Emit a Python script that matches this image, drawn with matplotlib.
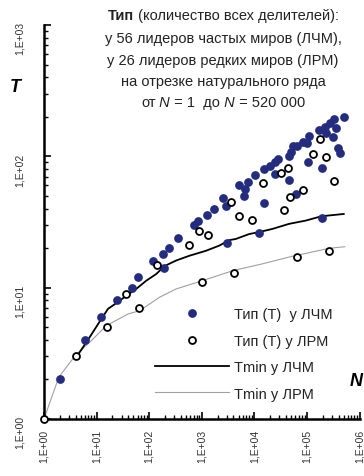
import numpy as np
import matplotlib
matplotlib.use('Agg')
import matplotlib.pyplot as plt
from matplotlib.ticker import FixedLocator, LogLocator, FuncFormatter, NullFormatter
from matplotlib.offsetbox import TextArea, HPacker, AnnotationBbox

plt.rcParams['font.family'] = ['Liberation Sans', 'DejaVu Sans']

# Тип (число делителей) у лидеров частых миров (ЛЧМ)
lchm_n = [2, 6, 12, 24, 48, 60, 120, 180, 192, 240, 360, 720, 840, 1260, 1680,
          2520, 2880, 3072, 5040, 6480, 6720, 7560, 10080, 12288, 15120, 15360,
          20160, 25000, 25200, 27720, 45360, 46080, 50400, 55440, 61440, 65520,
          83160, 100800, 103680, 110880, 166320, 190000, 196608, 221760, 226800,
          277200, 320000, 332640, 354000, 387000, 422000, 498960]
lchm_t = [2, 4, 6, 8, 10, 12, 16, 18, 14, 20, 24, 30, 32, 36, 40,
          48, 42, 22, 60, 50, 56, 64, 72, 26, 80, 44,
          84, 73, 90, 96, 100, 66, 108, 120, 52, 120,
          128, 126, 90, 144, 160, 82, 34, 168, 150,
          180, 140, 192, 164, 116, 106, 200]

# Тип у лидеров редких миров (ЛРМ)
lrm_n = [1, 4, 16, 36, 64, 144, 576, 900, 1024, 1296, 3600, 4096, 5184, 9216,
         14400, 32400, 36864, 44100, 46656, 65536, 82944, 129600, 176400,
         230400, 262144, 331776]
lrm_t = [1, 3, 5, 9, 7, 15, 21, 27, 11, 25, 45, 13, 35, 33,
         63, 75, 39, 81, 49, 17, 55, 105, 135,
         99, 19, 65]

# Tmin у ЛЧМ
tmin_lchm_n = [4, 7.4, 12.4, 16.5, 24, 37, 57, 88, 136, 196, 326, 582, 1205,
               2155, 3334, 4460, 7970, 11800, 22000, 45600, 94500, 190000, 502000]
tmin_lchm_t = [2.9, 4.2, 5.8, 6.9, 7.65, 8.7, 9.8, 11.3, 12.7, 14.6, 16.1, 17.5,
               19.1, 20.9, 23.0, 23.5, 25.6, 26.4, 28.0, 30.6, 32.4, 35.0, 36.4]

# Tmin у ЛРМ
tmin_lrm_n = [1, 1.92, 4, 7.4, 15.4, 39.5, 66, 102, 157, 326, 1026, 3963, 13450,
              45600, 267000, 525000]
tmin_lrm_t = [1, 2.09, 3.07, 3.84, 5.14, 6.3, 6.68, 7.51, 8.45, 9.78, 11.3, 13.5,
              15.1, 17.1, 19.95, 20.5]

W, H = 364, 477
fig = plt.figure(figsize=(W / 100, H / 100), dpi=100)
ax = fig.add_axes([44 / W, 57 / H, (359.5 - 44) / W, (420 - 26) / H])

ax.plot(tmin_lrm_n, tmin_lrm_t, color='#a0a0a0', lw=0.8, label='Tmin у ЛРМ', zorder=2)
ax.plot(tmin_lchm_n, tmin_lchm_t, color='black', lw=1.3, label='Tmin у ЛЧМ', zorder=2)
ax.plot(lchm_n, lchm_t, 'o', color='#232c7e', ms=6.3, mec='none',
        label='Тип (Т)  у ЛЧМ', zorder=3, clip_on=False)
ax.plot(lrm_n, lrm_t, 'o', mfc='white', mec='black', mew=1.3, ms=5,
        label='Тип (Т) у ЛРМ', zorder=4, clip_on=False)

ax.set_xscale('log')
ax.set_yscale('log')
ax.set_xlim(1, 1e6)
ax.set_ylim(1, 1000)

fmt = FuncFormatter(lambda v, p: '1,E+%02d' % int(round(np.log10(v))))
ax.xaxis.set_major_locator(FixedLocator([10.0 ** k for k in range(7)]))
ax.yaxis.set_major_locator(FixedLocator([10.0 ** k for k in range(4)]))
ax.xaxis.set_minor_locator(LogLocator(base=10, subs=np.arange(2, 10)))
ax.yaxis.set_minor_locator(LogLocator(base=10, subs=np.arange(2, 10)))
ax.xaxis.set_major_formatter(fmt)
ax.yaxis.set_major_formatter(fmt)
ax.xaxis.set_minor_formatter(NullFormatter())
ax.yaxis.set_minor_formatter(NullFormatter())

for s in ['top', 'right']:
    ax.spines[s].set_visible(False)
for s in ['left', 'bottom']:
    ax.spines[s].set_linewidth(1.8)

ax.tick_params(which='major', direction='in', length=5, width=1.2,
               labelsize=7.5, labelcolor='#333333')
ax.tick_params(which='minor', direction='in', length=3, width=1.0)
ax.tick_params(axis='y', which='major', labelrotation=90, pad=14)
ax.tick_params(axis='x', which='major', labelrotation=90, pad=7)

# подписи осей
fig.text(15 / W, 1 - 88 / H, 'T', fontsize=13, fontweight='bold', fontstyle='italic',
         ha='center', va='center')
fig.text(356 / W, 1 - 381 / H, 'N', fontsize=13, fontweight='bold', fontstyle='italic',
         ha='center', va='center')

# заголовок
fs = 10.5
col = '#222222'
def line(parts, y):
    areas = []
    for s, kw in parts:
        props = dict(fontsize=fs, color=col)
        props.update(kw)
        areas.append(TextArea(s, textprops=props))
    box = HPacker(children=areas, align='baseline', pad=0, sep=0)
    ab = AnnotationBbox(box, (223, H - y), xycoords='figure pixels',
                        box_alignment=(0.5, 0.5), frameon=False)
    fig.add_artist(ab)

line([('Тип', dict(fontweight='bold')), (' (количество всех делителей):', {})], 16)
line([('у 56 лидеров частых миров (ЛЧМ),', {})], 39)
line([('у 26 лидеров редких миров (ЛРМ)', {})], 61)
line([('на отрезке натурального ряда', {})], 82)
line([('от', {}), (' N', dict(fontstyle='italic')), (' = 1  до', {}),
      (' N', dict(fontstyle='italic')), (' = 520 000', {})], 103)

h, l = ax.get_legend_handles_labels()
order = [2, 3, 1, 0]
leg = ax.legend([h[i] for i in order], [l[i] for i in order],
                loc='center left', bbox_to_anchor=(155 / W, 1 - 355 / H),
                bbox_transform=fig.transFigure, frameon=False, fontsize=10.5,
                handlelength=5.1, handletextpad=0.3, labelspacing=0.85,
                borderpad=0, borderaxespad=0)
for t in leg.get_texts():
    t.set_color(col)

fig.savefig('out.png', dpi=100)
